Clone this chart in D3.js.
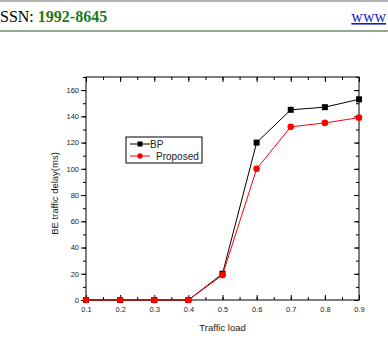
<!DOCTYPE html>
<html>
<head>
<meta charset="utf-8">
<script src="https://cdn.jsdelivr.net/npm/d3@7"></script>
<style>
  body { margin: 0; background: #fff; }
  svg { display: block; }
</style>
</head>
<body>
<script>
// datos
const trafficLoad = [0.1, 0.2, 0.3, 0.4, 0.5, 0.6, 0.7, 0.8, 0.9];
const bpDelay = [0, 0, 0, 0, 20, 120, 145, 147, 153];
const proposedDelay = [0, 0, 0, 0, 19, 100, 132, 135, 139];
const xTicks = [0.1, 0.2, 0.3, 0.4, 0.5, 0.6, 0.7, 0.8, 0.9];
const yTicks = [0, 20, 40, 60, 80, 100, 120, 140, 160];
const seriesNames = ['BP', 'Proposed'];

const width = 388;
const height = 342;
const plot = { left: 86, right: 359, top: 77, bottom: 300 };

const svg = d3.select('body').append('svg')
  .attr('width', width)
  .attr('height', height);

// cabecera de la revista (solo lo que se ve en el recorte)
svg.append('line').attr('x1', 0).attr('x2', width).attr('y1', 1).attr('y2', 1)
  .attr('stroke', '#999').attr('stroke-width', 1.5);
svg.append('line').attr('x1', 0).attr('x2', width).attr('y1', 31).attr('y2', 31)
  .attr('stroke', '#6f8a6f').attr('stroke-width', 1.5);
const head = svg.append('text')
  .attr('x', 0).attr('y', 22)
  .style('font-family', '"Liberation Serif", "DejaVu Serif", serif')
  .style('font-size', '16px');
head.append('tspan').attr('fill', '#000').text('SSN: ');
head.append('tspan').attr('fill', '#1a7a1a').style('font-weight', 'bold').text('1992-8645');
svg.append('text')
  .attr('x', 386).attr('y', 22)
  .attr('text-anchor', 'end')
  .attr('fill', '#1a1acc')
  .style('font-family', '"Liberation Serif", "DejaVu Serif", serif')
  .style('font-size', '16px')
  .style('text-decoration', 'underline')
  .text('www');

// escalas
const x = d3.scaleLinear().domain([0.1, 0.9]).range([plot.left, plot.right]);
const y = d3.scaleLinear().domain([0, 170]).range([plot.bottom, plot.top]);

const font = '"Liberation Sans", Arial, sans-serif';

// marco
svg.append('rect')
  .attr('x', plot.left).attr('y', plot.top)
  .attr('width', plot.right - plot.left).attr('height', plot.bottom - plot.top)
  .attr('fill', 'none').attr('stroke', '#000').attr('stroke-width', 1);

// eje izquierdo (ticks hacia fuera)
const yMinor = d3.range(0, 171, 10);
svg.append('g').attr('transform', `translate(${plot.left},0)`)
  .call(d3.axisLeft(y).tickValues(yMinor).tickSize(3).tickFormat(''))
  .call(g => g.select('.domain').remove());
const glMajor = svg.append('g').attr('transform', `translate(${plot.left},0)`)
  .call(d3.axisLeft(y).tickValues(yTicks).tickSize(5).tickPadding(2).tickFormat(d3.format('d')));
glMajor.select('.domain').remove();
glMajor.selectAll('text').style('font-family', font).style('font-size', '7.5px').attr('fill', '#222');

// eje derecho (ticks hacia dentro)
svg.append('g').attr('transform', `translate(${plot.right},0)`)
  .call(d3.axisLeft(y).tickValues(yMinor).tickSize(3).tickFormat(''))
  .call(g => g.select('.domain').remove());
svg.append('g').attr('transform', `translate(${plot.right},0)`)
  .call(d3.axisLeft(y).tickValues(yTicks).tickSize(5).tickFormat(''))
  .call(g => g.select('.domain').remove());

// eje inferior (ticks hacia dentro)
const xMinor = d3.range(0.1, 0.901, 0.05);
svg.append('g').attr('transform', `translate(0,${plot.bottom})`)
  .call(d3.axisTop(x).tickValues(xMinor).tickSize(3).tickFormat(''))
  .call(g => g.select('.domain').remove());
svg.append('g').attr('transform', `translate(0,${plot.bottom})`)
  .call(d3.axisTop(x).tickValues(xTicks).tickSize(5).tickFormat(''))
  .call(g => g.select('.domain').remove());
svg.append('g').attr('transform', `translate(0,${plot.bottom})`)
  .call(d3.axisBottom(x).tickValues(xTicks).tickSize(0).tickPadding(7).tickFormat(d3.format('.1f')))
  .call(g => g.select('.domain').remove())
  .selectAll('text').style('font-family', font).style('font-size', '7.5px').attr('fill', '#222');

// eje superior (ticks hacia dentro)
svg.append('g').attr('transform', `translate(0,${plot.top})`)
  .call(d3.axisBottom(x).tickValues(xMinor).tickSize(3).tickFormat(''))
  .call(g => g.select('.domain').remove());
svg.append('g').attr('transform', `translate(0,${plot.top})`)
  .call(d3.axisBottom(x).tickValues(xTicks).tickSize(5).tickFormat(''))
  .call(g => g.select('.domain').remove());

// titulos de ejes
svg.append('text')
  .attr('x', (plot.left + plot.right) / 2).attr('y', 331)
  .attr('text-anchor', 'middle')
  .style('font-family', font).style('font-size', '9.5px').attr('fill', '#222')
  .text('Traffic load');
svg.append('text')
  .attr('transform', `translate(58,${(plot.top + plot.bottom) / 2 + 5}) rotate(-90)`)
  .attr('text-anchor', 'middle')
  .style('font-family', font).style('font-size', '9.5px').attr('fill', '#222')
  .text('BE traffic delay(ms)');

// series
const line = d3.line().x(d => x(d[0])).y(d => y(d[1]));
const series = [
  { name: seriesNames[0], values: bpDelay, color: '#000', shape: 'square' },
  { name: seriesNames[1], values: proposedDelay, color: '#f00', shape: 'circle' }
];

series.forEach(s => {
  const pts = trafficLoad.map((t, i) => [t, s.values[i]]);
  svg.append('path')
    .datum(pts)
    .attr('d', line)
    .attr('fill', 'none')
    .attr('stroke', s.color)
    .attr('stroke-width', 1);
  if (s.shape === 'square') {
    svg.selectAll(null).data(pts).enter().append('rect')
      .attr('x', d => x(d[0]) - 3).attr('y', d => y(d[1]) - 3)
      .attr('width', 6).attr('height', 6)
      .attr('fill', s.color);
  } else {
    svg.selectAll(null).data(pts).enter().append('circle')
      .attr('cx', d => x(d[0])).attr('cy', d => y(d[1]))
      .attr('r', 3.3)
      .attr('fill', s.color);
  }
});

// leyenda
const leg = svg.append('g').attr('transform', 'translate(126,137)');
leg.append('rect').attr('width', 76).attr('height', 26)
  .attr('fill', '#fff').attr('stroke', '#000').attr('stroke-width', 1);
series.forEach((s, i) => {
  const ly = 7 + i * 12;
  leg.append('line').attr('x1', 4).attr('x2', 24).attr('y1', ly).attr('y2', ly)
    .attr('stroke', s.color).attr('stroke-width', 1);
  if (s.shape === 'square') {
    leg.append('rect').attr('x', 11.5).attr('y', ly - 2.5).attr('width', 5).attr('height', 5).attr('fill', s.color);
  } else {
    leg.append('circle').attr('cx', 14).attr('cy', ly).attr('r', 2.7).attr('fill', s.color);
  }
  leg.append('text')
    .attr('x', i === 0 ? 24 : 30).attr('y', ly + 3.5)
    .style('font-family', font).style('font-size', '10px').attr('fill', '#222')
    .text(s.name);
});
</script>
</body>
</html>
